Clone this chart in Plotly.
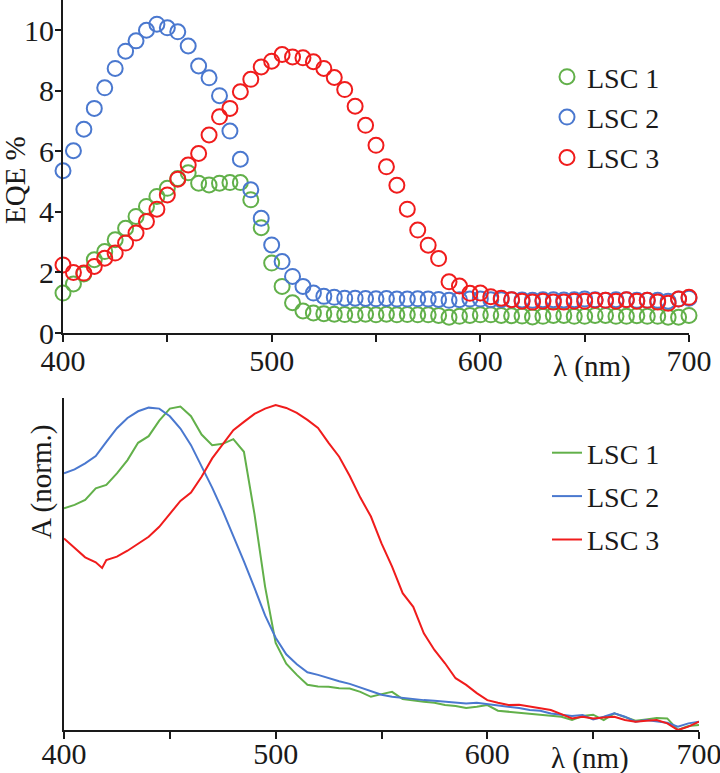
import plotly.graph_objects as go

# ---------------- data ----------------
wl_eqe = list(range(400, 705, 5))

eqe_lsc1 = [1.32, 1.62, 1.95, 2.42, 2.69, 3.08, 3.46, 3.85, 4.18, 4.51, 4.78, 5.10, 5.29, 4.95, 4.89, 4.95,
            4.97, 4.97, 4.40, 3.48, 2.31, 1.54, 1.00, 0.73, 0.66, 0.64, 0.62, 0.61, 0.60, 0.62, 0.60, 0.62,
            0.60, 0.61, 0.60, 0.60, 0.58, 0.52, 0.55, 0.58, 0.60, 0.60, 0.58, 0.57, 0.56, 0.53, 0.55, 0.58,
            0.58, 0.55, 0.55, 0.58, 0.58, 0.55, 0.55, 0.57, 0.55, 0.55, 0.52, 0.52, 0.58]
eqe_lsc2 = [5.36, 6.02, 6.73, 7.42, 8.10, 8.74, 9.31, 9.65, 10.0, 10.2, 10.08, 9.95, 9.48, 8.82, 8.43, 7.84,
            6.67, 5.74, 4.73, 3.79, 2.91, 2.36, 1.87, 1.54, 1.32, 1.21, 1.18, 1.15, 1.15, 1.14, 1.13, 1.14,
            1.12, 1.12, 1.13, 1.12, 1.11, 1.08, 1.10, 1.12, 1.12, 1.10, 1.10, 1.10, 1.09, 1.08, 1.10, 1.10,
            1.09, 1.10, 1.12, 1.10, 1.08, 1.10, 1.10, 1.08, 1.08, 1.08, 1.05, 1.12, 1.15]
eqe_lsc3 = [2.25, 2.00, 1.98, 2.20, 2.47, 2.64, 2.97, 3.30, 3.68, 4.09, 4.56, 5.08, 5.55, 5.93, 6.54, 7.14,
            7.42, 7.97, 8.38, 8.79, 8.98, 9.20, 9.12, 9.09, 8.96, 8.74, 8.44, 8.04, 7.49, 6.86, 6.20, 5.49,
            4.88, 4.09, 3.40, 2.90, 2.46, 1.69, 1.55, 1.31, 1.32, 1.20, 1.15, 1.10, 1.05, 1.02, 1.05, 1.02,
            1.02, 1.05, 1.05, 1.08, 1.08, 1.05, 1.10, 1.05, 1.08, 1.02, 0.98, 1.12, 1.18]

wl_abs = list(range(400, 705, 5))
abs_lsc1 = [0.668, 0.678, 0.693, 0.728, 0.738, 0.773, 0.813, 0.865, 0.885, 0.932, 0.968, 0.974, 0.945, 0.890,
            0.858, 0.862, 0.876, 0.838, 0.650, 0.432, 0.262, 0.200, 0.166, 0.136, 0.131, 0.130, 0.126, 0.125,
            0.115, 0.100, 0.108, 0.115, 0.093, 0.088, 0.085, 0.082, 0.075, 0.072, 0.066, 0.070, 0.075, 0.058,
            0.055, 0.052, 0.050, 0.048, 0.045, 0.040, 0.030, 0.042, 0.046, 0.030, 0.050, 0.038, 0.028, 0.032,
            0.036, 0.035, 0.000, 0.012, 0.015]
abs_lsc2 = [0.773, 0.785, 0.803, 0.825, 0.868, 0.909, 0.940, 0.960, 0.971, 0.968, 0.945, 0.908, 0.858, 0.795,
            0.730, 0.660, 0.585, 0.508, 0.428, 0.345, 0.278, 0.228, 0.198, 0.174, 0.166, 0.156, 0.147, 0.139,
            0.128, 0.115, 0.106, 0.100, 0.096, 0.094, 0.090, 0.088, 0.086, 0.082, 0.080, 0.082, 0.078, 0.075,
            0.070, 0.066, 0.060, 0.058, 0.050, 0.046, 0.042, 0.045, 0.032, 0.040, 0.050, 0.040, 0.025, 0.030,
            0.026, 0.022, 0.010, 0.020, 0.025]
wl_abs3 = [400, 405, 410, 415, 418, 420, 425, 430, 435, 440, 445, 450, 455, 460, 465, 470, 475, 480, 485, 490,
           495, 500, 505, 510, 515, 520, 525, 530, 535, 540, 545, 550, 555, 560, 565, 570, 575, 580, 585, 590,
           595, 600, 605, 610, 615, 620, 625, 630, 635, 640, 645, 650, 655, 660, 665, 670, 675, 680, 685, 690,
           695, 700]
abs_lsc3 = [0.577, 0.547, 0.520, 0.505, 0.488, 0.512, 0.522, 0.540, 0.560, 0.582, 0.612, 0.652, 0.690, 0.715,
            0.763, 0.818, 0.862, 0.903, 0.928, 0.952, 0.968, 0.979, 0.970, 0.955, 0.934, 0.910, 0.865, 0.823,
            0.765, 0.700, 0.643, 0.562, 0.492, 0.412, 0.371, 0.291, 0.241, 0.201, 0.156, 0.136, 0.111, 0.090,
            0.082, 0.075, 0.076, 0.070, 0.066, 0.060, 0.048, 0.035, 0.040, 0.035, 0.038, 0.040, 0.030, 0.025,
            0.028, 0.030, 0.020, 0.000, 0.010, 0.025]

names = ["LSC 1", "LSC 2", "LSC 3"]
colors = ["#62b04a", "#4a78cf", "#f01c1c"]
x_tickvals = [400, 450, 500, 550, 600, 650, 700]
x_ticktext = ["400", "", "500", "", "600", "", "700"]
eqe_tickvals = [0, 2, 4, 6, 8, 10]

# ---------------- figure ----------------
W, H = 720, 773
FONT = "Times New Roman, Liberation Serif, serif"
TXT = "#1a1a1a"

fig = go.Figure()

for nm, yv, c in zip(names, [eqe_lsc1, eqe_lsc2, eqe_lsc3], colors):
    fig.add_trace(go.Scatter(
        x=wl_eqe, y=yv, name=nm, mode="markers", xaxis="x", yaxis="y",
        marker=dict(symbol="circle-open", size=15, color=c, line=dict(width=2, color=c)),
        cliponaxis=False, legend="legend", legendgroup="t" + nm))

for nm, xv, yv, c in zip(names, [wl_abs, wl_abs, wl_abs3], [abs_lsc1, abs_lsc2, abs_lsc3], colors):
    fig.add_trace(go.Scatter(
        x=xv, y=yv, name=nm, mode="lines", xaxis="x2", yaxis="y2",
        line=dict(color=c, width=2), cliponaxis=False,
        legend="legend2", legendgroup="b" + nm))

def px_x(p):
    return p / W

def px_y(p):
    return 1 - p / H

axis_common = dict(showline=True, linecolor="#1a1a1a", linewidth=2, showgrid=False, zeroline=False,
                   ticks="outside", tickcolor="#1a1a1a", tickwidth=2, automargin=False,
                   ticklabeloverflow="allow",
                   tickfont=dict(family=FONT, size=30, color=TXT))

fig.update_layout(
    width=W, height=H, margin=dict(l=0, r=0, t=0, b=0, autoexpand=False),
    paper_bgcolor="white", plot_bgcolor="white",
    xaxis=dict(domain=[px_x(63), px_x(689)], range=[400, 700], anchor="y",
               tickvals=x_tickvals, ticktext=x_ticktext, ticklen=7, ticklabelstandoff=-7,
               **axis_common),
    yaxis=dict(domain=[px_y(333), 1], range=[0, 11], anchor="x",
               tickvals=eqe_tickvals, ticklen=6, ticklabelstandoff=-5, **axis_common),
    xaxis2=dict(domain=[px_x(64), px_x(699)], range=[400, 700], anchor="y2",
                tickvals=x_tickvals, ticktext=x_ticktext, ticklen=7, ticklabelstandoff=-11,
                **axis_common),
    yaxis2=dict(domain=[px_y(730), px_y(398)], range=[0, 1], anchor="x2", automargin=False,
                showline=True, linecolor="#1a1a1a", linewidth=2, showgrid=False, zeroline=False,
                showticklabels=False, ticks=""),
    legend=dict(x=px_x(547), y=px_y(52), xanchor="left", yanchor="top",
                font=dict(family=FONT, size=28, color=TXT), bgcolor="rgba(0,0,0,0)",
                tracegroupgap=1),
    legend2=dict(x=px_x(547), y=px_y(428), xanchor="left", yanchor="top",
                 font=dict(family=FONT, size=28, color=TXT), bgcolor="rgba(0,0,0,0)",
                 tracegroupgap=4),
    showlegend=True,
)

annots = [
    dict(text="EQE %", x=px_x(15), y=px_y(180), textangle=-90),
    dict(text="A (norm.)", x=px_x(41), y=px_y(482), textangle=-90),
    dict(text="λ (nm)", x=px_x(592), y=px_y(366), textangle=0),
    dict(text="λ (nm)", x=px_x(590), y=px_y(758), textangle=0),
]
for a in annots:
    fig.add_annotation(xref="paper", yref="paper", showarrow=False,
                       xanchor="center", yanchor="middle",
                       font=dict(family=FONT, size=29, color=TXT), **a)

fig.write_html("out.html")
